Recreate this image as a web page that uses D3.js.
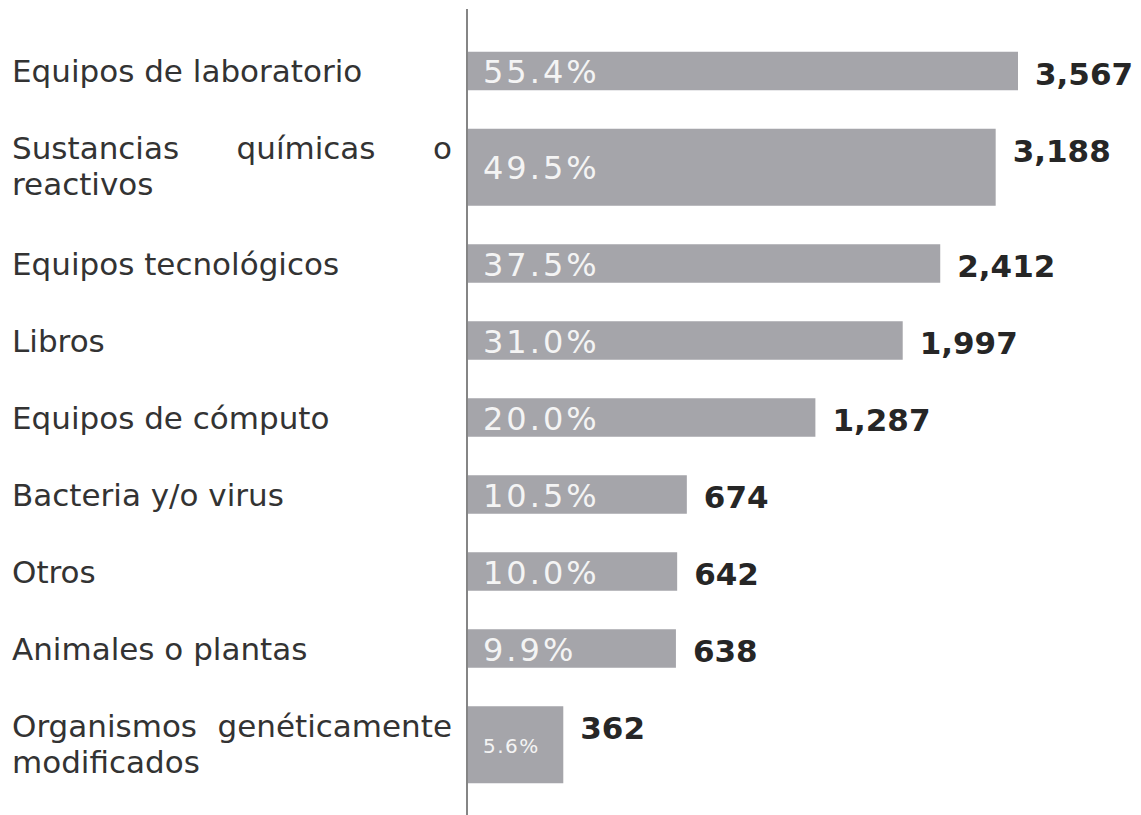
<!DOCTYPE html>
<html>
<head>
<meta charset="utf-8">
<script src="https://cdn.jsdelivr.net/npm/d3@7"></script>
<style>
body { margin: 0; background: #fff; }
svg text { font-family: "DejaVu Sans", Verdana, sans-serif; }
</style>
</head>
<body>
<svg id="chart" width="1141" height="815"></svg>
<script>
var categories = [
    "Equipos de laboratorio",
    "Sustancias químicas o reactivos",
    "Equipos tecnológicos",
    "Libros",
    "Equipos de cómputo",
    "Bacteria y/o virus",
    "Otros",
    "Animales o plantas",
    "Organismos genéticamente modificados"
];
var counts = [3567, 3188, 2412, 1997, 1287, 674, 642, 638, 362];
var percents = [55.4, 49.5, 37.5, 31.0, 20.0, 10.5, 10.0, 9.9, 5.6];

var svg = d3.select("#chart");
var labelLeft = 12, labelWidth = 440;
var axisX = 467;

// wrap the category names into lines that fit the label column
var labels = svg.append("g");
var rows = categories.map(function(name){
    var words = name.split(" ");
    var lines = [], line = [];
    var probe = labels.append("text").style("font-size", "31px");
    words.forEach(function(w){
        line.push(w);
        probe.text(line.join(" "));
        if (probe.node().getComputedTextLength() > labelWidth && line.length > 1) {
            line.pop();
            lines.push(line.join(" "));
            line = [w];
        }
    });
    lines.push(line.join(" "));
    probe.remove();
    return {lines: lines, units: lines.length > 1 ? 1.5 : 1};
});

// row positions: cumulative units
var start = 0;
rows.forEach(function(r, i){
    r.start = start;
    start += r.units;
    r.name = categories[i];
    r.count = counts[i];
    r.pct = percents[i];
});

var y = d3.scaleLinear().domain([0, start]).range([32.5, 802.5]);
// bars in the original are not drawn to a linear scale; a log scale fits them best
var x = d3.scaleLog().domain([223, 3567]).range([axisX, 1018]);

var fmtCount = d3.format(",");
var fmtPct = function(d){ return d3.format(".1f")(d) + "%"; };

// vertical axis line
svg.append("line")
    .attr("x1", axisX).attr("x2", axisX)
    .attr("y1", 9).attr("y2", 815)
    .attr("stroke", "#858585")
    .attr("stroke-width", 2);

var row = svg.append("g").selectAll("g")
    .data(rows)
    .join("g");

row.append("rect")
    .attr("x", axisX + 1)
    .attr("y", d => y(d.start + 0.25))
    .attr("width", d => x(d.count) - axisX - 1)
    .attr("height", d => y(d.start + d.units - 0.25) - y(d.start + 0.25))
    .attr("fill", "#a5a5aa");

// percentage inside the bar
var small = d => x(d.count) - axisX < 120;
row.append("text")
    .attr("x", axisX + 16)
    .attr("y", d => (y(d.start + 0.25) + y(d.start + d.units - 0.25)) / 2)
    .attr("dy", d => small(d) ? 8 : 12)
    .style("font-size", d => small(d) ? "20px" : "32px")
    .style("letter-spacing", d => small(d) ? "1.5px" : "3px")
    .attr("fill", "#f4f4f4")
    .text(d => fmtPct(d.pct));

// count at the end of the bar
row.append("text")
    .attr("x", d => x(d.count) + 17)
    .attr("y", d => y(d.start + 0.25) + 33)
    .style("font-size", "31px")
    .style("font-weight", "bold")
    .attr("fill", "#262626")
    .text(d => fmtCount(d.count));

// category labels, justified like the original
row.each(function(d){
    var mid = (y(d.start + 0.25) + y(d.start + d.units - 0.25)) / 2;
    var t = d3.select(this).append("text")
        .style("font-size", "31px")
        .attr("fill", "#333");
    d.lines.forEach(function(l, i){
        var baseY = d.lines.length > 1 ? mid - 8 + i * 36 : mid + 11;
        var ts = t.append("tspan")
            .attr("x", labelLeft)
            .attr("y", baseY)
            .text(l);
        if (i < d.lines.length - 1) {
            var w = ts.node().getComputedTextLength();
            var gaps = l.split(" ").length - 1;
            if (gaps > 0) ts.style("word-spacing", ((labelWidth - w) / gaps) + "px");
        }
    });
});
</script>
</body>
</html>
